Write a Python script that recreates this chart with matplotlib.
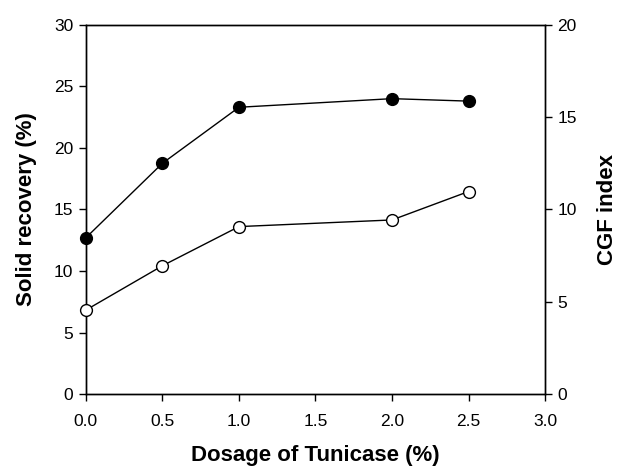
import numpy as np
import matplotlib
matplotlib.use('Agg')
import matplotlib.pyplot as plt

plt.rcParams['font.family'] = ['Liberation Sans', 'DejaVu Sans']

# data
dosage = [0.0, 0.5, 1.0, 2.0, 2.5]
solid_recovery = [12.7, 18.75, 23.3, 24.0, 23.8]   # left axis, filled circles
cgf_index = [4.55, 6.95, 9.07, 9.43, 10.97]        # right axis, open circles

fig = plt.figure(figsize=(6.18, 4.68), dpi=100)
ax = fig.add_axes([0.139, 0.158, 0.743, 0.789])
ax2 = ax.twinx()

ax.plot(dosage, solid_recovery, '-o', color='black', lw=1.0,
        markersize=8.5, markerfacecolor='black', markeredgecolor='black', clip_on=False, zorder=3)
ax2.plot(dosage, cgf_index, '-o', color='black', lw=1.0,
         markersize=8.5, markerfacecolor='white', markeredgecolor='black', markeredgewidth=1.0,
         clip_on=False, zorder=3)

ax.set_xlim(0, 3)
ax.set_ylim(0, 30)
ax2.set_ylim(0, 20)
ax.set_xticks(np.arange(0, 3.01, 0.5))
ax.set_xticklabels(['0.0', '0.5', '1.0', '1.5', '2.0', '2.5', '3.0'])
ax.set_yticks(np.arange(0, 31, 5))
ax2.set_yticks(np.arange(0, 21, 5))

for a in (ax, ax2):
    a.tick_params(direction='out', length=5, width=1, labelsize=12.5, pad=4)
    for s in a.spines.values():
        s.set_linewidth(1)
ax.tick_params(axis='x', pad=9)

ax.set_xlabel('Dosage of Tunicase (%)', fontsize=16, fontweight='bold', labelpad=12)
ax.set_ylabel('Solid recovery (%)', fontsize=16, fontweight='bold', labelpad=12)
ax2.set_ylabel('CGF index', fontsize=16, fontweight='bold', labelpad=14)

plt.savefig('out.png', dpi=100)
